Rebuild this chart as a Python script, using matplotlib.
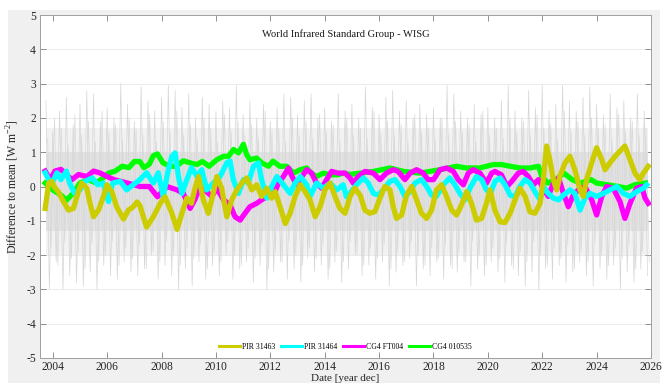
import numpy as np
import matplotlib
matplotlib.use("Agg")
import matplotlib.pyplot as plt
from matplotlib.patches import Rectangle

plt.rcParams['font.family'] = ['Liberation Serif', 'DejaVu Serif']
plt.rcParams['mathtext.fontset'] = 'custom'
plt.rcParams['mathtext.rm'] = 'Liberation Serif'
plt.rcParams['axes.unicode_minus'] = False

# ---------------- data ----------------
series_names = ["PIR 31463", "PIR 31464", "CG4 FT004", "CG4 010535"]
series_colors = ["#cccc00", "#00ffff", "#ff00ff", "#00ff00"]

pir31463_yr = [2003.72, 2003.85, 2003.96, 2004.09, 2004.20, 2004.39, 2004.58, 2004.76, 2004.94, 2005.06,
               2005.25, 2005.37, 2005.50, 2005.68, 2005.86, 2005.99, 2006.17, 2006.35, 2006.60, 2006.78,
               2006.96, 2007.10, 2007.20, 2007.45, 2007.70, 2007.95, 2008.13, 2008.38, 2008.57, 2008.75,
               2008.93, 2009.10, 2009.23, 2009.36, 2009.54, 2009.72, 2009.90, 2010.03, 2010.21, 2010.40,
               2010.58, 2010.77, 2010.95, 2011.13, 2011.32, 2011.50, 2011.68, 2011.87, 2012.05, 2012.18,
               2012.36, 2012.55, 2012.73, 2012.91, 2013.10, 2013.28, 2013.46, 2013.65, 2013.83, 2014.01,
               2014.20, 2014.38, 2014.56, 2014.75, 2014.93, 2015.11, 2015.30, 2015.48, 2015.66, 2015.85,
               2016.03, 2016.21, 2016.40, 2016.52, 2016.64, 2016.83, 2017.01, 2017.20, 2017.38, 2017.56,
               2017.75, 2017.93, 2018.11, 2018.30, 2018.48, 2018.67, 2018.85, 2019.03, 2019.22, 2019.40,
               2019.58, 2019.77, 2019.95, 2020.08, 2020.26, 2020.45, 2020.63, 2020.82, 2021.00, 2021.18,
               2021.37, 2021.55, 2021.73, 2021.92, 2022.04, 2022.16, 2022.28, 2022.41, 2022.53, 2022.65,
               2022.84, 2023.02, 2023.20, 2023.39, 2023.51, 2023.63, 2023.82, 2024.00, 2024.19, 2024.31,
               2024.49, 2024.68, 2024.86, 2025.04, 2025.23, 2025.41, 2025.59, 2025.72, 2025.90]
pir31463_val = [-0.64, 0.10, 0.15, -0.05, -0.15, -0.44, -0.69, -0.64, -0.15, 0.10,
                -0.05, -0.49, -0.88, -0.69, -0.30, 0.05, -0.15, -0.59, -0.95, -0.69,
                -0.59, -0.45, -0.55, -1.18, -0.88, -0.49, -0.30, -0.78, -1.25, -0.78,
                -0.34, -0.49, -0.05, 0.29, -0.39, -0.78, -0.20, 0.29, -0.05, -0.88,
                -0.39, -0.10, 0.10, 0.25, -0.10, 0.05, -0.29, -0.05, -0.34, -0.15,
                -0.59, -1.08, -0.78, -0.29, 0.05, -0.15, -0.39, -0.88, -0.59, -0.10,
                0.10, -0.29, -0.64, -0.78, -0.29, -0.05, -0.25, -0.69, -0.78, -0.73,
                -0.34, 0.00, -0.10, -0.59, -0.93, -0.83, -0.25, 0.00, -0.39, -0.78,
                -0.93, -0.69, -0.10, 0.05, -0.29, -0.69, -0.83, -0.54, -0.15, -0.49,
                -0.98, -0.93, -0.49, -0.10, -0.69, -1.03, -1.05, -0.78, -0.39, -0.05,
                -0.29, -0.74, -0.78, -0.49, 0.20, 1.18, 0.78, 0.20, -0.10, 0.30,
                0.69, 0.88, 0.49, -0.10, -0.29, 0.20, 0.69, 1.13, 0.78, 0.49,
                0.69, 0.88, 1.03, 1.18, 0.78, 0.39, 0.20, 0.39, 0.59]

pir31464_yr = [2003.72, 2003.85, 2003.98, 2004.15, 2004.30, 2004.50, 2004.62, 2004.80, 2005.00, 2005.18,
               2005.45, 2005.65, 2005.85, 2006.05, 2006.20, 2006.48, 2006.72, 2006.96, 2007.20, 2007.45,
               2007.70, 2007.88, 2008.06, 2008.25, 2008.38, 2008.50, 2008.62, 2008.75, 2008.93, 2009.10,
               2009.30, 2009.48, 2009.66, 2009.90, 2010.15, 2010.40, 2010.52, 2010.64, 2010.83, 2011.01,
               2011.19, 2011.38, 2011.56, 2011.68, 2011.87, 2012.05, 2012.24, 2012.48, 2012.73, 2012.91,
               2013.10, 2013.34, 2013.46, 2013.70, 2013.95, 2014.20, 2014.44, 2014.68, 2014.80, 2014.93,
               2015.17, 2015.42, 2015.60, 2015.79, 2015.97, 2016.15, 2016.40, 2016.58, 2016.77, 2016.95,
               2017.14, 2017.32, 2017.56, 2017.75, 2017.93, 2018.11, 2018.36, 2018.60, 2018.79, 2018.97,
               2019.16, 2019.34, 2019.58, 2019.77, 2019.95, 2020.10, 2020.26, 2020.45, 2020.63, 2020.82,
               2021.00, 2021.18, 2021.37, 2021.55, 2021.73, 2021.92, 2022.04, 2022.22, 2022.41, 2022.60,
               2022.78, 2023.02, 2023.20, 2023.39, 2023.57, 2023.76, 2024.00, 2024.25, 2024.49, 2024.74,
               2024.98, 2025.23, 2025.47, 2025.72, 2025.84]
pir31464_val = [0.40, 0.20, 0.10, 0.40, 0.20, 0.45, 0.10, -0.20, -0.10, 0.15,
                0.25, 0.05, 0.10, -0.44, 0.10, 0.15, -0.10, 0.05, 0.20, 0.40,
                0.10, 0.40, -0.30, 0.50, 0.88, 0.98, 0.30, -0.20, 0.20, 0.55,
                0.30, 0.49, -0.10, 0.10, 0.29, 0.69, 0.74, 0.20, -0.20, 0.20,
                0.10, 0.59, 0.69, 0.20, -0.34, 0.00, 0.29, 0.05, -0.20, 0.10,
                0.29, 0.05, -0.29, 0.10, -0.05, 0.10, -0.10, 0.05, -0.30, -0.20,
                0.05, 0.25, 0.10, -0.20, -0.25, -0.10, 0.15, 0.20, 0.00, -0.29,
                -0.15, 0.10, 0.20, 0.00, -0.25, -0.29, 0.05, 0.25, 0.05, -0.20,
                -0.39, -0.05, 0.29, 0.20, -0.10, -0.20, 0.15, 0.25, 0.05, -0.25,
                -0.30, 0.00, 0.20, 0.10, -0.15, -0.39, 0.00, -0.20, -0.34, -0.39,
                -0.25, -0.10, -0.20, -0.69, -0.34, -0.20, -0.29, -0.20, -0.10, 0.00,
                -0.20, -0.29, -0.15, -0.05, 0.05]

cg4ft004_yr = [2003.72, 2003.90, 2004.08, 2004.30, 2004.45, 2004.70, 2004.95, 2005.25, 2005.50, 2005.75,
               2006.00, 2006.25, 2006.50, 2006.75, 2007.20, 2007.55, 2007.85, 2008.20, 2008.57, 2008.80,
               2009.05, 2009.22, 2009.40, 2009.66, 2009.85, 2010.03, 2010.28, 2010.52, 2010.70, 2010.89,
               2011.07, 2011.25, 2011.50, 2011.68, 2011.87, 2012.10, 2012.30, 2012.48, 2012.67, 2012.80,
               2012.97, 2013.16, 2013.34, 2013.52, 2013.70, 2013.89, 2014.07, 2014.25, 2014.50, 2014.75,
               2014.93, 2015.05, 2015.23, 2015.48, 2015.79, 2016.03, 2016.27, 2016.52, 2016.70, 2016.95,
               2017.14, 2017.38, 2017.62, 2017.80, 2018.00, 2018.24, 2018.48, 2018.73, 2018.91, 2019.10,
               2019.28, 2019.46, 2019.71, 2019.95, 2020.14, 2020.26, 2020.50, 2020.70, 2020.88, 2021.12,
               2021.30, 2021.49, 2021.67, 2021.86, 2022.04, 2022.22, 2022.41, 2022.60, 2022.78, 2022.96,
               2023.14, 2023.33, 2023.57, 2023.82, 2024.00, 2024.19, 2024.37, 2024.61, 2024.86, 2025.04,
               2025.23, 2025.47, 2025.66, 2025.78, 2025.90]
cg4ft004_val = [0.45, 0.20, 0.45, 0.50, 0.39, 0.20, 0.35, 0.29, 0.45, 0.39,
                0.29, 0.20, 0.15, 0.10, 0.00, 0.00, -0.30, 0.00, -0.10, -0.20,
                -0.64, -0.39, -0.05, -0.15, -0.29, -0.05, -0.39, -0.54, -0.88, -0.98,
                -0.78, -0.59, -0.49, -0.39, -0.29, -0.29, 0.10, 0.29, 0.54, 0.29,
                0.05, 0.29, 0.49, 0.39, 0.10, -0.05, 0.20, 0.44, 0.39, 0.39,
                0.25, 0.10, 0.29, 0.44, 0.39, 0.20, 0.39, 0.49, 0.44, 0.20,
                0.39, 0.49, 0.39, 0.20, 0.20, 0.49, 0.54, 0.44, 0.20, 0.05,
                0.39, 0.49, 0.39, 0.10, 0.39, 0.44, 0.34, 0.00, 0.15, 0.39,
                0.44, 0.29, 0.05, 0.20, -0.05, -0.29, 0.10, 0.25, -0.20, -0.59,
                -0.25, -0.10, 0.00, -0.39, -0.83, -0.29, 0.00, -0.05, -0.44, -0.93,
                -0.49, -0.05, 0.00, -0.34, -0.49]

cg4010535_yr = [2003.72, 2004.00, 2004.30, 2004.50, 2004.75, 2005.00, 2005.30, 2005.60, 2005.85, 2006.05,
                2006.30, 2006.55, 2006.80, 2007.00, 2007.20, 2007.35, 2007.55, 2007.70, 2007.85, 2008.05,
                2008.30, 2008.55, 2008.80, 2009.05, 2009.30, 2009.50, 2009.75, 2010.03, 2010.28, 2010.46,
                2010.65, 2010.83, 2011.01, 2011.13, 2011.25, 2011.50, 2011.68, 2011.93, 2012.10, 2012.35,
                2012.60, 2012.85, 2013.10, 2013.34, 2013.50, 2013.70, 2013.95, 2014.20, 2014.45, 2014.70,
                2014.93, 2015.30, 2015.80, 2016.40, 2016.90, 2017.50, 2018.24, 2018.85, 2019.20, 2019.70,
                2020.20, 2020.50, 2020.82, 2021.18, 2021.55, 2021.86, 2021.98, 2022.20, 2022.50, 2022.80,
                2023.10, 2023.40, 2023.80, 2024.00, 2024.40, 2024.80, 2025.10, 2025.40, 2025.80]
cg4010535_val = [0.10, -0.10, -0.25, -0.40, -0.20, 0.10, 0.20, 0.10, 0.25, 0.39,
                 0.45, 0.59, 0.55, 0.73, 0.73, 0.55, 0.65, 0.90, 0.95, 0.69,
                 0.59, 0.59, 0.75, 0.69, 0.64, 0.73, 0.59, 0.78, 0.88, 0.88,
                 1.08, 0.98, 1.23, 0.93, 0.78, 0.83, 0.69, 0.59, 0.74, 0.59,
                 0.59, 0.39, 0.49, 0.54, 0.39, 0.29, 0.39, 0.34, 0.34, 0.39,
                 0.35, 0.39, 0.44, 0.54, 0.44, 0.39, 0.49, 0.59, 0.54, 0.54,
                 0.64, 0.64, 0.59, 0.54, 0.54, 0.59, 0.30, 0.10, 0.20, 0.39,
                 0.20, 0.10, 0.20, 0.10, 0.05, 0.00, -0.05, 0.05, 0.10]

# background (individual differences) – spike extremes, quarter-year steps from 2003.75
gray_start = 2003.75
gray_step = 0.25
gray_high = [2.5, 1.6, 2.2, 2.6, 1.8, 2.4, 2.8, 2.7, 1.9, 2.3, 2.0, 3.0, 2.4, 1.9, 2.9, 2.5, 2.2, 2.6,
             2.95, 2.8, 2.3, 2.7, 2.0, 2.6, 2.4, 2.2, 2.5, 2.3, 2.95, 2.1, 2.5, 2.0, 2.4, 1.9, 2.3, 2.7,
             2.6, 2.1, 2.5, 2.7, 2.0, 2.3, 1.9, 2.7, 2.2, 2.4, 2.0, 2.9, 2.3, 2.1, 2.6, 2.8, 2.2, 2.5,
             2.0, 2.4, 2.1, 2.3, 2.0, 2.95, 2.7, 2.2, 2.0, 2.4, 2.1, 2.3, 2.0, 2.5, 2.95, 2.2, 2.0, 2.8,
             2.3, 2.95, 2.2, 2.4, 2.95, 2.5, 2.2, 2.6, 2.9, 2.4, 2.1, 2.7, 2.3, 2.5, 2.0, 2.7, 2.2]
gray_low = [-3.0, -2.2, -3.0, -2.6, -2.8, -2.9, -2.5, -3.0, -2.3, -2.6, -2.7, -2.2, -2.5, -2.6, -2.4,
            -2.0, -2.7, -2.3, -2.6, -3.0, -2.4, -2.9, -2.2, -2.7, -2.3, -2.6, -2.0, -2.7, -2.4, -2.2,
            -2.8, -2.3, -3.0, -2.5, -2.2, -2.7, -2.4, -2.8, -2.1, -2.5, -2.3, -2.7, -2.2, -2.8, -2.4,
            -2.0, -2.6, -2.3, -2.7, -2.2, -2.9, -2.5, -2.3, -2.1, -2.9, -2.4, -2.6, -2.2, -2.7, -2.3,
            -2.5, -2.2, -2.9, -2.4, -2.6, -2.2, -2.5, -2.8, -2.3, -2.6, -2.9, -2.5, -3.0, -2.4, -2.7,
            -2.3, -2.8, -2.5, -2.2, -2.6, -2.9, -2.4, -2.7, -2.3, -3.0, -2.5, -2.8, -2.4, -2.6]
gray_high2 = [1.4, 2.0, 1.7, 1.2, 2.1, 1.5, 1.9, 1.3, 2.2, 1.6, 1.8, 1.4, 2.0, 1.7, 1.5, 2.1, 1.3, 1.9,
              1.6, 2.2, 1.5, 1.8, 1.4, 2.0, 1.7, 1.3, 2.1, 1.6, 1.9, 1.5, 1.8, 1.4, 2.2, 1.6, 1.7, 1.3,
              2.0, 1.5, 1.9, 1.4, 2.1, 1.6, 1.8, 1.3, 2.0, 1.5, 1.7, 1.4, 2.2, 1.6, 1.9, 1.5, 1.8, 1.3,
              2.1, 1.6, 1.7, 1.4, 2.0, 1.5, 1.9, 1.6, 1.8, 1.3, 2.2, 1.5, 1.7, 1.4, 2.0, 1.6, 1.9, 1.5,
              2.1, 1.7, 1.8, 1.4, 2.2, 1.6, 1.9, 1.5, 2.0, 1.7, 1.8, 1.4, 2.1, 1.6, 1.9, 1.5, 1.7]
gray_low2 = [-1.8, -2.3, -1.6, -2.1, -1.9, -2.4, -1.7, -2.2, -2.0, -1.6, -2.3, -1.8, -2.1, -1.7, -2.4,
             -1.9, -2.2, -1.6, -2.0, -2.3, -1.8, -2.1, -1.7, -2.4, -1.9, -2.2, -1.6, -2.0, -2.3, -1.8,
             -2.1, -1.7, -2.4, -1.9, -2.2, -1.6, -2.0, -2.3, -1.8, -2.1, -1.7, -2.4, -1.9, -2.2, -1.6,
             -2.0, -2.3, -1.8, -2.1, -1.7, -2.4, -1.9, -2.2, -1.6, -2.0, -2.3, -1.8, -2.1, -1.7, -2.4,
             -1.9, -2.2, -1.6, -2.0, -2.3, -1.8, -2.1, -1.7, -2.4, -1.9, -2.2, -1.6, -2.0, -2.3, -1.8,
             -2.1, -1.7, -2.4, -1.9, -2.2, -1.6, -2.0, -2.3, -1.8, -2.1, -1.7, -2.4, -1.9, -2.2]
gray_band_outer = (-2.0, 1.7)
gray_band_inner = (-1.3, 1.0)

x_ticks = [2004, 2006, 2008, 2010, 2012, 2014, 2016, 2018, 2020, 2022, 2024, 2026]
y_ticks = [-5, -4, -3, -2, -1, 0, 1, 2, 3, 4, 5]

# ---------------- figure ----------------
W, H = 662, 383
fig = plt.figure(figsize=(W / 100, H / 100), dpi=100, facecolor="white")
fig.patches.append(Rectangle((8 / W, 0), (660 - 8) / W, (H - 10) / H, transform=fig.transFigure,
                             facecolor="#f0f0f0", edgecolor="none", zorder=-10))

ax = fig.add_axes([40 / W, 1 - 358 / H, (651 - 40) / W, (358 - 15) / H])
ax.set_facecolor("white")


def zigzag(highs, lows, offset):
    n = min(len(highs), len(lows))
    gx = gray_start + offset + gray_step * np.arange(n)
    px = np.empty(2 * n)
    py = np.empty(2 * n)
    px[0::2] = gx
    px[1::2] = gx + gray_step / 2
    py[0::2] = highs[:n]
    py[1::2] = lows[:n]
    return px, py


n0 = len(gray_high)
x_lo, x_hi = gray_start, gray_start + gray_step * (n0 - 0.5)
ax.fill_between([x_lo, x_hi], gray_band_outer[0], gray_band_outer[1], color="#f2f2f2", lw=0, zorder=1)
ax.fill_between([x_lo, x_hi], gray_band_inner[0], gray_band_inner[1], color="#e2e2e2", lw=0, zorder=1.1)
px, py = zigzag(gray_high2, gray_low2, gray_step / 4)
ax.plot(px, py, color="#dadada", lw=0.5, zorder=1.4)
px, py = zigzag(gray_high, gray_low, 0.0)
ax.plot(px, py, color="#d6d6d6", lw=0.5, zorder=1.5)

xs = [pir31463_yr, pir31464_yr, cg4ft004_yr, cg4010535_yr]
ys = [pir31463_val, pir31464_val, cg4ft004_val, cg4010535_val]
zorders = [6, 5, 4, 3]
handles = []
for xv, yv, name, col, zo in zip(xs, ys, series_names, series_colors, zorders):
    h, = ax.plot(xv, yv, color=col, lw=3.8, label=name, zorder=zo, solid_joinstyle="round")
    handles.append(h)

ax.set_xlim(2003.53, 2026.0)
ax.set_ylim(-5, 5)
ax.set_xticks(x_ticks)
ax.set_yticks(y_ticks)
ax.grid(axis="y", color="#ebebeb", lw=0.7, zorder=0)
ax.set_axisbelow(True)
ax.tick_params(direction="in", top=True, right=True, length=4, width=0.6,
               colors="#808080", labelcolor="#262626", labelsize=8.3, pad=3)
ax.tick_params(axis="x", pad=2)
for s in ax.spines.values():
    s.set_color("#a0a0a0")
    s.set_linewidth(0.7)

ax.text(0.5, 0.945, "World Infrared Standard Group - WISG", transform=ax.transAxes,
        ha="center", va="center", fontsize=7.6, color="#1a1a1a")
ax.set_ylabel(r"Difference to mean [W m$^{-2}$]", fontsize=8.5, color="#262626", labelpad=4)
fig.text(345 / W, 0.3 / H, "Date [year dec]", ha="center", va="bottom",
         fontsize=8.0, color="#262626")

leg = ax.legend(handles=handles, loc="lower center", bbox_to_anchor=(0.5, 0.0), ncol=4,
                frameon=False, fontsize=5.6, handlelength=2.6, handletextpad=0.3,
                columnspacing=0.8, borderaxespad=0.5)
for lh in leg.get_lines():
    lh.set_linewidth(2.2)

fig.savefig("out.png", dpi=100, facecolor=fig.get_facecolor())
